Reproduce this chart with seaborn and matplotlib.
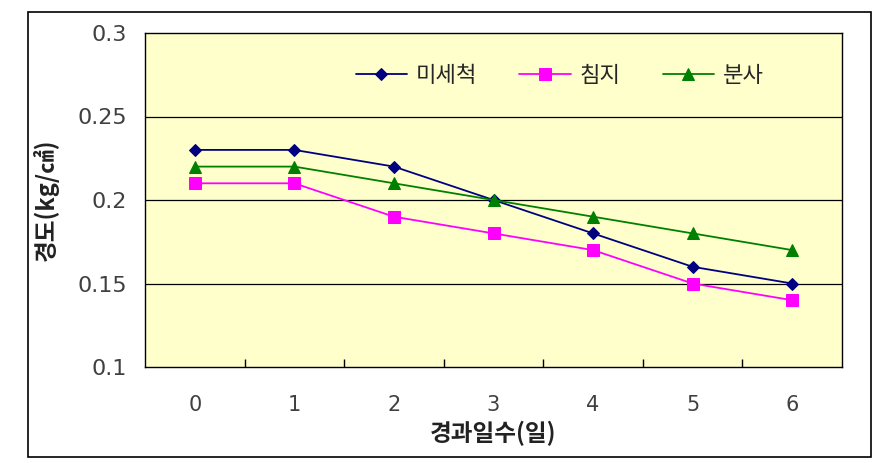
import matplotlib
matplotlib.use("Agg")
import matplotlib.pyplot as plt
import seaborn as sns
import pandas as pd
import numpy as np
from matplotlib.patches import Rectangle

days = [0, 1, 2, 3, 4, 5, 6]
series_names = ["미세척", "침지", "분사"]
v_unwashed = [0.23, 0.23, 0.22, 0.20, 0.18, 0.16, 0.15]
v_soak = [0.21, 0.21, 0.19, 0.18, 0.17, 0.15, 0.14]
v_spray = [0.22, 0.22, 0.21, 0.20, 0.19, 0.18, 0.17]
y_ticks = [0.1, 0.15, 0.2, 0.25, 0.3]
y_tick_labels = ["0.1", "0.15", "0.2", "0.25", "0.3"]

df = pd.DataFrame({
    "day": days * 3,
    "value": v_unwashed + v_soak + v_spray,
    "series": [series_names[0]] * 7 + [series_names[1]] * 7 + [series_names[2]] * 7,
})

sns.set_theme(style="white")
plt.rcParams['font.family'] = ['Noto Sans CJK KR', 'DejaVu Sans']

fig = plt.figure(figsize=(8.82, 4.63), dpi=100)
fig.patch.set_facecolor("white")
ax = fig.add_axes([145/882, 1-367/463, (842-145)/882, (367-33)/463])
ax.set_facecolor("#FFFFCC")

palette = {"미세척": "#000080", "침지": "#FF00FF", "분사": "#008000"}
markers = {"미세척": "D", "침지": "s", "분사": "^"}
sizes = {"미세척": 6, "침지": 9, "분사": 8}

for name in series_names:
    sub = df[df["series"] == name]
    sns.lineplot(data=sub, x="day", y="value", ax=ax, color=palette[name],
                 marker=markers[name], markersize=sizes[name], markeredgecolor=palette[name],
                 linewidth=1.3, label=name)

ax.set_xlim(-0.5, 6.5)
ax.set_ylim(0.1, 0.3)
ax.set_yticks(y_ticks)
ax.set_yticklabels(y_tick_labels, fontsize=16, color="#404040", family=['DejaVu Sans'])
ax.set_xticks(days)
ax.set_xticklabels([str(d) for d in days], fontsize=15, color="#404040", family=['DejaVu Sans'])
ax.tick_params(axis="x", which="major", length=0, pad=20, bottom=False)
ax.tick_params(axis="y", which="major", length=0, pad=13, left=False)
ax.set_xticks(np.arange(0.5, 6.0, 1.0), minor=True)
ax.tick_params(axis="x", which="minor", bottom=True, direction="in", length=6, width=1, color="black")
for y in y_ticks[1:-1]:
    ax.axhline(y, color="black", linewidth=0.9, zorder=0.5)
for s in ax.spines.values():
    s.set_visible(True)
    s.set_color("black")
    s.set_linewidth(1.0)

ax.set_xlabel("경과일수(일)", fontsize=17, fontweight="bold", labelpad=4, color="#222222")
ax.set_ylabel("경도(kg/㎠)", fontsize=17, fontweight="bold", labelpad=13, color="#222222")

leg = ax.legend(loc="center", bbox_to_anchor=(0.595, 0.874), ncol=3, frameon=False,
                fontsize=16, handlelength=2.3, columnspacing=1.9, handletextpad=0.4)

fig.patches.append(Rectangle((28/882, 1-457/463), 843/882, 445/463, transform=fig.transFigure,
                             fill=False, edgecolor="black", linewidth=1.2))

fig.savefig("out.png", dpi=100)
